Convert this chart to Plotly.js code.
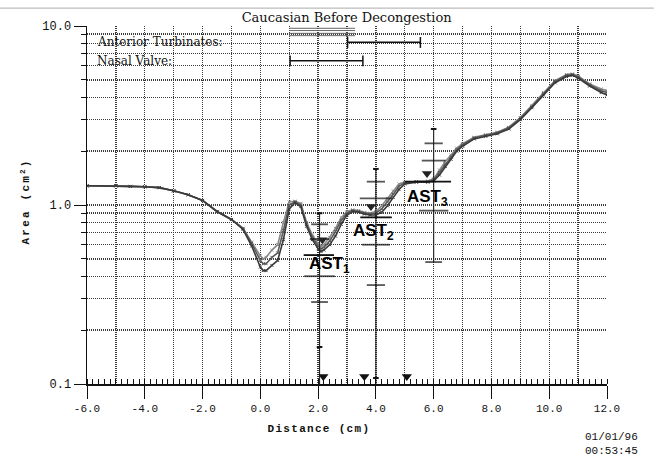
<!DOCTYPE html>
<html>
<head>
<meta charset="utf-8">
<script src="https://cdn.plot.ly/plotly-3.0.1.min.js"></script>
<style>
html,body{margin:0;padding:0;background:#fff;}
#chart{width:654px;height:469px;}
#chart .annotation[data-index="5"] text{letter-spacing:2.2px;}
#chart .annotation[data-index="6"] text{letter-spacing:1.3px;}
</style>
</head>
<body>
<div id="chart"></div>
<script>
// ---- data ----
const dist = [-6, -5, -4.5, -4, -3.5, -3, -2.5, -2, -1.5, -1, -0.6, -0.3, 0, 0.1, 0.2, 0.4, 0.6, 0.8, 1.0, 1.2, 1.4, 1.6, 1.8, 2.0, 2.1, 2.2, 2.4, 2.6, 2.8, 3.0, 3.2, 3.4, 3.6, 3.8, 4.0, 4.2, 4.4, 4.6, 4.8, 5.0, 5.4, 5.8, 6.0, 6.2, 6.4, 6.6, 6.8, 7.0, 7.4, 7.8, 8.2, 8.6, 9.0, 9.4, 9.8, 10.2, 10.6, 10.8, 11.0, 11.4, 11.8, 12.0];
const areaA = [1.28, 1.28, 1.27, 1.265, 1.25, 1.20, 1.14, 1.06, 0.92, 0.83, 0.74, 0.62, 0.52, 0.50, 0.51, 0.56, 0.60, 0.80, 1.04, 1.05, 1.02, 0.80, 0.68, 0.61, 0.59, 0.60, 0.66, 0.74, 0.85, 0.92, 0.94, 0.93, 0.91, 0.90, 0.92, 0.99, 1.09, 1.20, 1.31, 1.34, 1.35, 1.36, 1.40, 1.57, 1.75, 1.90, 2.08, 2.20, 2.39, 2.47, 2.55, 2.72, 3.08, 3.60, 4.25, 4.95, 5.35, 5.40, 5.25, 4.75, 4.45, 4.35];
const areaB = [1.28, 1.28, 1.27, 1.265, 1.25, 1.20, 1.14, 1.06, 0.92, 0.83, 0.74, 0.61, 0.49, 0.47, 0.47, 0.51, 0.54, 0.72, 1.00, 1.04, 1.00, 0.78, 0.66, 0.59, 0.57, 0.58, 0.63, 0.71, 0.82, 0.90, 0.93, 0.92, 0.90, 0.89, 0.90, 0.95, 1.04, 1.15, 1.27, 1.33, 1.35, 1.35, 1.38, 1.52, 1.70, 1.86, 2.04, 2.17, 2.37, 2.45, 2.53, 2.70, 3.05, 3.55, 4.20, 4.90, 5.30, 5.35, 5.20, 4.70, 4.35, 4.25];
const areaC = [1.28, 1.28, 1.27, 1.265, 1.25, 1.20, 1.14, 1.06, 0.92, 0.83, 0.73, 0.59, 0.45, 0.43, 0.43, 0.46, 0.49, 0.64, 0.95, 1.03, 0.98, 0.76, 0.64, 0.57, 0.55, 0.56, 0.60, 0.67, 0.78, 0.88, 0.92, 0.91, 0.89, 0.88, 0.88, 0.91, 0.99, 1.10, 1.22, 1.31, 1.34, 1.34, 1.36, 1.47, 1.64, 1.80, 2.00, 2.13, 2.34, 2.42, 2.50, 2.66, 3.00, 3.50, 4.12, 4.82, 5.22, 5.30, 5.12, 4.62, 4.25, 4.12];

// AST error-bar columns
const colX = [2.05, 4.0, 6.0];
const colTop = [0.90, 1.59, 2.66];
const colBottom = [0.1, 0.1, 0.48];
const dashX = [2.05, 2.05, 2.05, 2.05, 4.0, 4.0, 4.0, 4.0, 6.0, 6.0, 6.0, 6.0];
const dashY = [0.78, 0.645, 0.40, 0.287, 1.35, 1.09, 0.60, 0.357, 2.21, 1.77, 0.93, 0.48];
const dotX = [2.05, 2.05, 4.0, 4.0, 6.0];
const dotY = [0.90, 0.161, 1.59, 0.108, 2.66];
const meanLeft = [1.5, 3.46, 5.0];
const meanRight = [2.55, 4.55, 6.6];
const meanY = [0.525, 0.853, 1.35];
const astX = [2.15, 3.83, 5.77];
const astY = [0.64, 0.98, 1.50];
const astNames = ['AST<sub>1</sub>', 'AST<sub>2</sub>', 'AST<sub>3</sub>'];
const floorX = [2.18, 3.6, 5.07];
const floorY = [0.11, 0.11, 0.11];

// header ranges
const rangeNames = ['Anterior Turbinates:', 'Nasal Valve:'];
const rangeStart = [3.02, 1.03];
const rangeEnd = [5.54, 3.55];
const rangeY = [8.11, 6.40];
const stackStart = [1.0, 1.0, 1.0, 1.0];
const stackEnd = [3.28, 3.28, 3.28, 3.28];
const stackY = [9.71, 9.43, 9.10, 8.83];

const xTicks = [-6, -4, -2, 0, 2, 4, 6, 8, 10, 12];
const xTickText = ['-6.0', '-4.0', '-2.0', '0.0', '2.0', '4.0', '6.0', '8.0', '10.0', '12.0'];
const yTicks = [0.1, 1, 10];
const yTickText = ['0.1', '1.0', '10.0'];
const yMinor = [0.2, 0.3, 0.4, 0.5, 0.6, 0.7, 0.8, 0.9, 2, 3, 4, 5, 6, 7, 8, 9];

// ---- styles ----
const dashWidths = [12, 14, 22, 12, 13, 23, 20, 13, 13, 17, 21, 12];
const astLabelPos = [[1.62, 0.462], [3.14, 0.706], [5.02, 1.094]];

// ---- build traces ----
function segs(x0, x1, y0, y1) {
  const xs = [], ys = [];
  for (let i = 0; i < x0.length; i++) { xs.push(x0[i], x1[i], null); ys.push(y0[i], y1[i], null); }
  return {xs, ys};
}
const traces = [];
const curveColors = ['#8a8a8a', '#5a5a5a', '#3a3a3a'];
[areaA, areaB, areaC].forEach((a, i) => {
  traces.push({x: dist, y: a, type: 'scatter', mode: 'lines+markers',
    line: {color: curveColors[i], width: 1.6},
    marker: {symbol: 'x-thin', size: 3, line: {width: 1, color: curveColors[i]}},
    hoverinfo: 'skip', showlegend: false});
});
const v = segs(colX, colX, colBottom, colTop);
traces.push({x: v.xs, y: v.ys, mode: 'lines', line: {color: '#222', width: 1.1}, showlegend: false, hoverinfo: 'skip'});
traces.push({x: dashX, y: dashY, mode: 'markers', marker: {symbol: 'line-ew', size: dashWidths, line: {width: 1.8, color: '#111'}}, showlegend: false, hoverinfo: 'skip'});
traces.push({x: dotX, y: dotY, mode: 'markers', marker: {symbol: 'line-ew', size: 4, line: {width: 2, color: '#111'}}, showlegend: false, hoverinfo: 'skip'});
const m = segs(meanLeft, meanRight, meanY, meanY);
traces.push({x: m.xs, y: m.ys, mode: 'lines', line: {color: '#111', width: 1.8}, showlegend: false, hoverinfo: 'skip'});
traces.push({x: astX, y: astY, mode: 'markers', marker: {symbol: 'triangle-down', size: 9, color: '#222'}, showlegend: false, hoverinfo: 'skip'});
traces.push({x: floorX, y: floorY, mode: 'markers', marker: {symbol: 'triangle-down', size: 9, color: '#111'}, showlegend: false, hoverinfo: 'skip'});
// header bars
const h = segs(rangeStart, rangeEnd, rangeY, rangeY);
traces.push({x: h.xs, y: h.ys, mode: 'lines', line: {color: '#111', width: 1.5}, showlegend: false, hoverinfo: 'skip', xaxis: 'x2'});
const capX = [], capY0 = [], capY1 = [];
rangeStart.forEach((s, i) => { capX.push(s, rangeEnd[i]); capY0.push(rangeY[i] * 0.93, rangeY[i] * 0.93); capY1.push(rangeY[i] * 1.07, rangeY[i] * 1.07); });
const c = segs(capX, capX, capY0, capY1);
traces.push({x: c.xs, y: c.ys, mode: 'lines', line: {color: '#111', width: 1.5}, showlegend: false, hoverinfo: 'skip', xaxis: 'x2'});
const st = segs(stackStart, stackEnd, stackY, stackY);
traces.push({x: st.xs, y: st.ys, mode: 'lines', line: {color: '#666', width: 1}, showlegend: false, hoverinfo: 'skip', xaxis: 'x2'});

const annotations = [];
astNames.forEach((t, i) => {
  annotations.push({x: astLabelPos[i][0], y: Math.log10(astLabelPos[i][1]), xref: 'x', yref: 'y', text: t, showarrow: false,
    xanchor: 'left', yanchor: 'middle', font: {family: 'Liberation Sans, Arial', size: 17, color: '#000', weight: 'bold'}});
});
rangeNames.forEach((t, i) => {
  annotations.push({x: -5.74, y: Math.log10(rangeY[i]), xref: 'x', yref: 'y', text: t, showarrow: false,
    xanchor: 'left', yanchor: 'middle', font: {family: 'DejaVu Serif, serif', size: 12, color: '#111'}});
});
annotations.push({x: -0.1346, y: 0.51, xref: 'paper', yref: 'paper', text: 'Area (cm<sup>2</sup>)', textangle: -90, showarrow: false,
  font: {family: 'Liberation Mono, monospace', size: 11, color: '#111', weight: 'bold'}});
annotations.push({x: 0.446, y: -0.148, xref: 'paper', yref: 'paper', text: 'Distance (cm)', showarrow: false,
  font: {family: 'Liberation Mono, monospace', size: 11, color: '#111', weight: 'bold'}});
annotations.push({x: 1.0635, y: -0.1257, xref: 'paper', yref: 'paper', text: '01/01/96<br>00:53:45', showarrow: false,
  xanchor: 'right', yanchor: 'top', align: 'right', font: {family: 'Liberation Mono, monospace', size: 11, color: '#111'}});

const gridStyle = {gridcolor: '#3a3a3a', griddash: '1px,1px', gridwidth: 1.4};
const layout = {
  width: 654, height: 469,
  margin: {l: 87, r: 47, t: 26, b: 85},
  paper_bgcolor: '#fff', plot_bgcolor: '#fff',
  title: {text: 'Caucasian Before Decongestion', x: 0.53, xanchor: 'center', y: 0.962, yanchor: 'middle',
    font: {family: 'DejaVu Serif, serif', size: 13, color: '#111'}},
  xaxis: {range: [-6, 12], tickvals: xTicks, ticktext: xTickText, ticks: 'outside', ticklen: 13, tickcolor: '#111', tickwidth: 1,
    showgrid: false, zeroline: false, showline: true, linecolor: '#111', linewidth: 1.5,
    tickfont: {family: 'Liberation Mono, monospace', size: 11, color: '#111'},
    minor: {dtick: 0.2, tick0: 0, ticks: 'inside', ticklen: 5, tickcolor: '#111', tickwidth: 1, showgrid: false}},
  xaxis2: {range: [-6, 12], overlaying: 'x', anchor: 'y', dtick: 1, tick0: 0, showticklabels: false, ticks: '', showgrid: true,
    zeroline: false, showline: false, ...gridStyle},
  yaxis: {type: 'log', range: [-1, 1], tickvals: yTicks, ticktext: yTickText, ticks: 'outside', ticklen: 12, tickcolor: '#111',
    showgrid: true, ...gridStyle, zeroline: false, showline: true, linecolor: '#111', linewidth: 1.5,
    tickfont: {family: 'Liberation Mono, monospace', size: 12, color: '#111'},
    minor: {tickvals: yMinor, ticks: 'outside', ticklen: 5, tickcolor: '#111', showgrid: true, ...gridStyle}},
  annotations: annotations,
  shapes: [{type: 'line', xref: 'paper', yref: 'paper', x0: -0.17, x1: 1.09, y0: 1.05, y1: 1.05, line: {color: '#aaa', width: 1}}],
  showlegend: false
};
Plotly.newPlot('chart', traces, layout, {staticPlot: true, displayModeBar: false});
</script>
</body>
</html>
